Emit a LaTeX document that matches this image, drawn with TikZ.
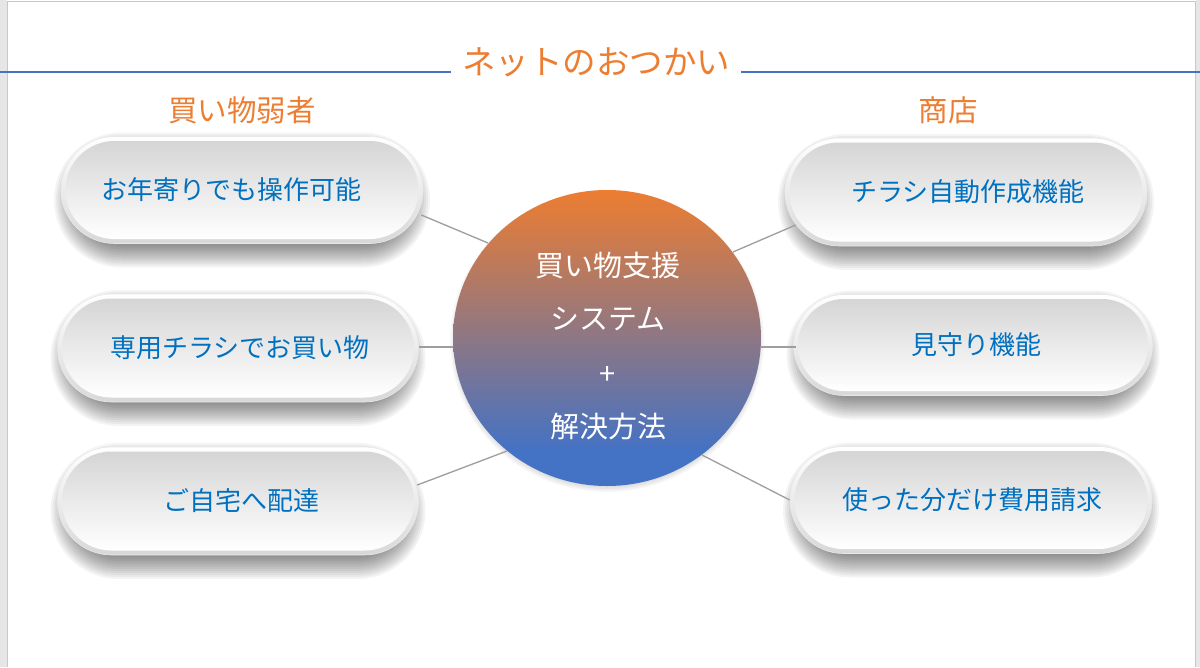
\documentclass[tikz,border=0pt]{standalone}
\usepackage{fontspec}
\setmainfont{Noto Sans CJK JP}
\usetikzlibrary{shapes.geometric,calc}
\definecolor{ttlorange}{HTML}{ED7D31}
\definecolor{lineblue}{HTML}{4472C4}
\definecolor{txtblue}{HTML}{0070C0}
\definecolor{pilltop}{HTML}{D5D5D5}
\definecolor{rimbot}{HTML}{D8D8D8}
\definecolor{connc}{HTML}{9E9E9E}
\definecolor{framec}{HTML}{C8C8C8}
\definecolor{stripc}{HTML}{E6E6E6}
\pgfdeclareverticalshading{orb}{100bp}{color(0bp)=(lineblue); color(31bp)=(lineblue); color(75bp)=(ttlorange); color(100bp)=(ttlorange)}
% #1 name, #2 x, #3 y, #4 width, #5 height, #6 text, #7 text x offset
\newcommand\mypill[7]{%
  \foreach \k in {1,...,12}{%
    \fill[black, opacity=0.045, rounded corners=(#5-20+4*\k)/2]
      ({#2-(#4-34+4*\k)/2},{#3+10-(#5-20+4*\k)/2}) rectangle
      ({#2+(#4-34+4*\k)/2},{#3+10+(#5-20+4*\k)/2});}
  \node[pillout, minimum width=#4pt, minimum height=#5pt, rounded corners=#5pt/2] (#1) at (#2,#3) {};
  \node[pillin, minimum width=#4pt-9pt, minimum height=#5pt-9pt, rounded corners=#5pt/2-4.5pt,
        label={[pilltext, xshift=#7pt]center:#6}] (#1i) at (#2,#3) {};}
\begin{document}
\begin{tikzpicture}[x=1pt,y=-1pt,
  pillout/.style={rectangle, top color=white, bottom color=rimbot, draw=gray!18, line width=0.6pt, inner sep=0pt},
  pillin/.style={rectangle, top color=pilltop, bottom color=white, draw=none, inner sep=0pt},
  pilltext/.style={text=txtblue, font=\fontsize{26}{30}\selectfont, inner sep=0pt},
  heading/.style={text=ttlorange, font=\fontsize{29.5}{32}\selectfont, inner sep=0pt},
  connector/.style={draw=connc, line width=1.3pt}]
\useasboundingbox (0,0) rectangle (1200,667);
% page frame
\fill[white] (0,0) rectangle (1200,667);
\fill[stripc] (0,0) rectangle (7,667);
\fill[stripc] (1196,0) rectangle (1200,667);
\draw[framec, line width=1pt] (7.5,667) -- (7.5,1) -- (1195.5,1) -- (1195.5,667);
% title and rule
\node[text=ttlorange, font=\fontsize{33.5}{36}\selectfont, inner xsep=11pt, inner ysep=0pt] (title) at (596,62) {ネットのおつかい};
\coordinate (rl) at (0,72);
\coordinate (rr) at (1200,72);
\draw[lineblue, line width=2pt] (rl) -- (rl -| title.west);
\draw[lineblue, line width=2pt] (rr -| title.east) -- (rr);
% headings
\node[heading] (hl) at (242,110) {買い物弱者};
\node[heading] (hr) at (948,110) {商店};
% pills
\mypill{L1}{242}{190}{362}{107}{お年寄りでも操作可能}{-11}
\mypill{L2}{238}{348}{361}{108}{専用チラシでお買い物}{2}
\mypill{L3}{238}{501}{361}{108}{ご自宅へ配達}{3}
\mypill{R1}{966}{192}{362}{108}{チラシ自動作成機能}{2}
\mypill{R2}{973}{345}{359}{101}{見守り機能}{3}
\mypill{R3}{971}{500}{362}{107}{使った分だけ費用請求}{1}
% centre
\foreach \k in {1,...,6}{%
  \fill[black, opacity=0.03] (607,{341}) ellipse ({148+1.5*\k} and {142+1.5*\k});}
\node[ellipse, minimum width=308pt, minimum height=296pt, inner sep=0pt, shading=orb] (C) at (607,338) {};
\node[text=white, align=center, font=\fontsize{29}{53}\selectfont, inner sep=0pt] (ctext) at (608,346)
  {買い物支援\\システム\\[2pt]+\\解決方法};
% connectors
\draw[connector] ($(L1.east)+(-2,25)$) -- ($(C)+(-119,-95)$);
\draw[connector] ($(L2.east)+(0,-1)$) -- ($(C)+(-154,9)$);
\draw[connector] ($(L3.east)+(-1.5,-16)$) -- ($(C)+(-100,113)$);
\draw[connector] ($(R1.west)+(11,33)$) -- ($(C)+(126,-86)$);
\draw[connector] ($(R2.west)+(2.5,2)$) -- ($(C)+(154,9)$);
\draw[connector] ($(R3.west)+(0,0)$) -- ($(C)+(95,117)$);
\end{tikzpicture}
\end{document}
